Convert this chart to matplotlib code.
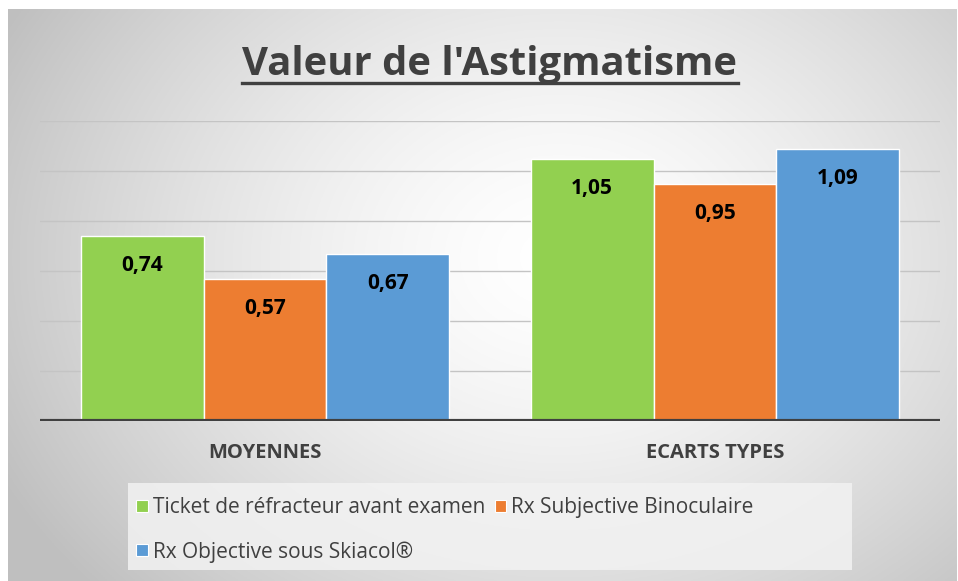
import numpy as np
import matplotlib.pyplot as plt
from matplotlib.patches import Rectangle, Patch
from matplotlib.lines import Line2D

plt.rcParams["font.family"] = ["Open Sans", "DejaVu Sans"]

# data
categories = ["MOYENNES", "ECARTS TYPES"]
series_names = [
    "Ticket de réfracteur avant examen",
    "Rx Subjective Binoculaire",
    "Rx Objective sous Skiacol®",
]
ticket_values = [0.74, 1.05]
subjective_values = [0.57, 0.95]
objective_values = [0.67, 1.09]
value_labels = [["0,74", "1,05"], ["0,57", "0,95"], ["0,67", "1,09"]]

colors = ["#92D050", "#ED7D31", "#5B9BD5"]
text_color = "#404040"

W, H = 958, 581
fig = plt.figure(figsize=(W / 100, H / 100), dpi=100)
fig.patch.set_facecolor("white")

# radial gradient background panel
bg = fig.add_axes([8 / W, 0, (957 - 8) / W, (H - 9) / H])
yy, xx = np.mgrid[0:300, 0:500]
cx, cy = 290, 130
r = np.sqrt(((xx - cx) / 330.0) ** 2 + ((yy - cy) / 260.0) ** 2)
shade = 1.0 - 0.25 * np.clip(r, 0, 1) ** 1.5
bg.imshow(np.dstack([shade] * 3), aspect="auto", extent=[0, 1, 0, 1], origin="upper")
bg.set_axis_off()
bg.set_zorder(0)

# main axes
ax = fig.add_axes([40 / W, (H - 421) / H, 900 / W, 300 / H])
ax.set_zorder(1)
ax.patch.set_alpha(0)

x = np.arange(len(categories))
width = 0.273
all_values = [ticket_values, subjective_values, objective_values]
for i, (vals, col) in enumerate(zip(all_values, colors)):
    pos = x + (i - 1) * width
    bars = ax.bar(pos, vals, width, color=col, edgecolor="white", linewidth=1.0, zorder=3)
    for b, lab in zip(bars, value_labels[i]):
        ax.annotate(lab, (b.get_x() + b.get_width() / 2, b.get_height()),
                    xytext=(0, -21.5), textcoords="offset points",
                    ha="center", va="center", fontsize=15, fontweight="bold",
                    color="black", zorder=4)

ax.set_xlim(-0.5, 1.5)
ax.set_ylim(0, 1.2)
ax.set_yticks(np.arange(0.2, 1.21, 0.2))
ax.yaxis.grid(True, color="#c4c4c4", linewidth=1.0, zorder=1)
ax.tick_params(left=False, bottom=False, labelleft=False, labelbottom=False)
for s in ax.spines.values():
    s.set_visible(False)
ax.axhline(0, color="#404040", linewidth=3, zorder=5)

for xi, cat in zip(x, categories):
    ax.text(xi, -0.128, cat, ha="center", va="center", fontsize=14.5,
            fontweight="bold", color=text_color)

# title with underline
title = fig.text(490 / W, 1 - 75 / H, "Valeur de l'Astigmatisme", ha="center",
                 va="baseline", fontsize=28.8, fontweight="bold", color=text_color)
fig.canvas.draw()
bb = title.get_window_extent()
fig.add_artist(Line2D([bb.x0 / W, bb.x1 / W], [1 - 83 / H, 1 - 83 / H],
                      color=text_color, linewidth=2.4))

# legend background
fig.add_artist(Rectangle((128 / W, 1 - 570 / H), (852 - 128) / W, (570 - 483) / H,
                         transform=fig.transFigure, facecolor="#f2f2f2",
                         edgecolor="none", alpha=0.85, zorder=1))

handles = [Patch(facecolor=c, edgecolor="white", linewidth=0.8) for c in colors]
order = [0, 2, 1]
leg = fig.legend([handles[i] for i in order], [series_names[i] for i in order],
                 ncol=2, loc="upper left", bbox_to_anchor=(132 / W, 1 - 493 / H),
                 frameon=False, fontsize=15, handlelength=0.55, handleheight=0.55,
                 handletextpad=0.25, columnspacing=0.45, labelspacing=1.1,
                 borderaxespad=0, borderpad=0.2)
for t in leg.get_texts():
    t.set_color(text_color)

fig.savefig("out.png", dpi=100)
